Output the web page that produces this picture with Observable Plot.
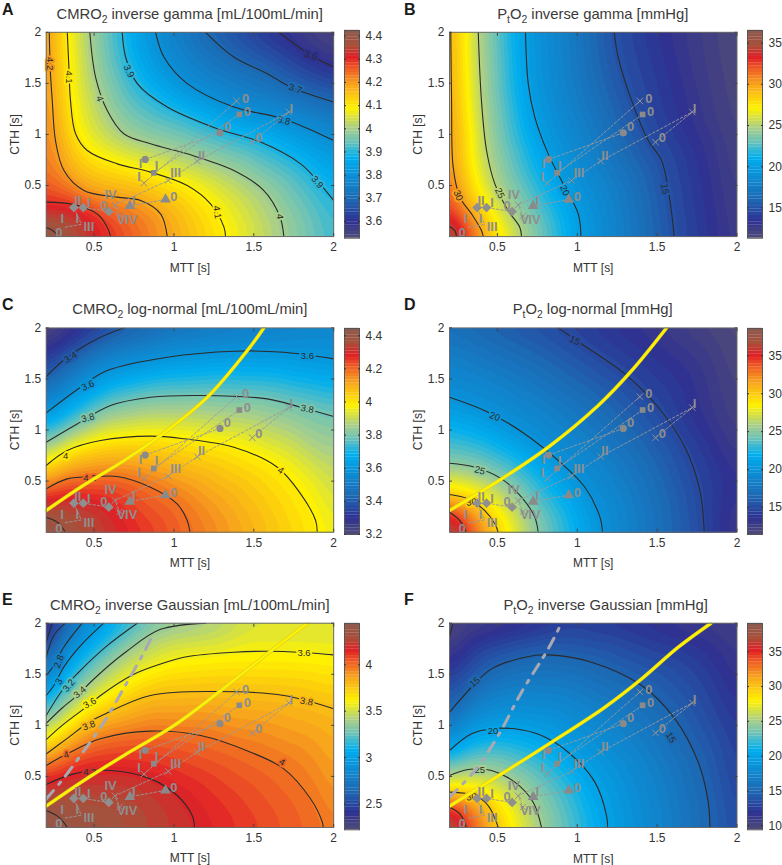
<!DOCTYPE html>
<html><head><meta charset="utf-8">
<script src="https://cdn.jsdelivr.net/npm/d3@7"></script>
<script src="https://cdn.jsdelivr.net/npm/@observablehq/plot@0.6"></script>
<style>
html,body{margin:0;background:#fff}
#c{position:relative;width:782px;height:865px;overflow:hidden;font-family:'Liberation Sans',Arial,sans-serif;color:#333}
#c svg{position:absolute;overflow:visible}
.t{position:absolute;transform:translate(-50%,-50%);font-size:14.8px;white-space:nowrap;color:#3a3a3a;line-height:1}
.t sub{font-size:70%;line-height:0}
.l{position:absolute;font-size:16px;font-weight:bold;color:#1a1a1a;line-height:1}
</style></head><body><div id="c"></div>
<script>
// Contour lines: level, then [MTT, CTH] knots
const contoursA=[
 [4.4,[[.2,.09],[.24,.06],[.28,0]]],
 [4.3,[[.2,.337],[.373,.314],[.519,.222],[.582,.092],[.603,0]]],
 [4.2,[[.219,2],[.227,1.595],[.238,1.333],[.258,.941],[.311,.647],[.436,.451],[.645,.386],[.791,.353],[.916,.222],[.958,0]]],
 [4.1,[[.332,2],[.342,1.66],[.352,1.333],[.384,1.007],[.457,.843],[.645,.712],[.853,.631],[1.083,.5],[1.229,.32],[1.313,.092],[1.323,0]]],
 [4,[[.473,2],[.509,1.562],[.582,1.235],[.686,1.007],[.853,.908],[1.083,.81],[1.375,.647],[1.563,.451],[1.663,.196],[1.688,0]]],
 [3.9,[[.676,2],[.697,1.758],[.77,1.497],[.958,1.268],[1.271,1.056],[1.542,.925],[1.793,.712],[1.897,.549],[2,.353]]],
 [3.8,[[.885,2],[.937,1.758],[1.083,1.497],[1.375,1.268],[1.647,1.17],[1.793,1.088],[2,.941]]],
 [3.7,[[1.198,2],[1.375,1.758],[1.584,1.595],[1.73,1.464],[2,1.317]]],
 [3.6,[[1.657,2],[1.856,1.775],[2,1.66]]]];
const cornersA=[[.2,2,4.22],[.2,1.2,4.235],[.2,.7,4.25],[.2,0,4.44],[2,2,3.54],[2,0,3.92],[.35,.15,4.36]];
const labelsA=[[4.2,.223,1.693,90],[4.1,.342,1.562,90],[4,.536,1.35,70],[3.9,.718,1.62,65],[3.8,1.688,1.137,15],[3.7,1.76,1.448,20],[3.6,1.856,1.775,20],[3.9,1.897,.533,50],[4.1,1.27,.239,80],[4,1.663,.196,85]];

const contoursB=[
 [35,[[.2,.098],[.233,.059],[.244,0]]],
 [30,[[.208,2],[.213,1.333],[.223,.68],[.265,.386],[.338,.222],[.4,.059],[.411,0]]],
 [25,[[.38,2],[.4,1.333],[.432,.843],[.484,.516],[.567,.255],[.64,.092],[.651,0]]],
 [20,[[.676,2],[.693,1.497],[.734,1.17],[.818,.81],[.912,.516],[1.006,.222],[1.023,0]]],
 [15,[[1.231,2],[1.256,1.758],[1.34,1.333],[1.444,.941],[1.528,.745],[1.58,.353],[1.607,0]]]];
const cornersB=[[2,2,11.6],[2,1,12],[2,0,12.6],[1.6,2,13.2],[.2,2,30.2],[.2,1,30.8],[.2,.6,31.8],[.2,0,36.5]];
const labelsB=[[15,1.549,.467,80],[20,.922,.451,65],[25,.515,.425,65],[30,.254,.402,65]];

const contoursC=[
 [4.4,[[.2,.147],[.269,.098],[.321,0]]],
 [4.2,[[.2,.424],[.332,.522],[.52,.545],[.645,.545],[.853,.44],[1.02,.277],[1.083,.114],[1.1,0]]],
 [4,[[.2,.653],[.332,.8],[.54,.897],[.853,.94],[1.062,.914],[1.375,.832],[1.647,.636],[1.793,.375],[1.887,.114],[1.897,0]]],
 [3.8,[[.2,.881],[.394,1.06],[.603,1.24],[.853,1.321],[1.167,1.338],[1.584,1.305],[1.793,1.223],[2,1.132]]],
 [3.6,[[.2,1.168],[.415,1.419],[.582,1.582],[.958,1.713],[1.375,1.772],[1.688,1.762],[2,1.697]]],
 [3.4,[[.2,1.524],[.332,1.713],[.54,1.909],[.686,2]]]];
const cornersC=[[.2,2,3.2],[1,2,3.47],[1.563,2,3.52],[2,2,3.55],[2,0,3.96],[2,.6,3.9],[.2,0,4.44],[.8,.02,4.27],[.55,.3,4.3],[.3,.35,4.31]];
const labelsC=[[3.4,.352,1.713,-30],[3.6,.461,1.436,-25],[3.8,.461,1.119,-15],[4,.321,.75,0],[4.2,.473,.532,0],[4,1.668,.604,35],[3.8,1.835,1.207,10],[3.6,1.835,1.723,0]];

const contoursD=[
 [35,[[.2,.196],[.265,.114],[.306,0]]],
 [30,[[.2,.369],[.317,.326],[.421,.212],[.484,.082],[.505,0]]],
 [25,[[.2,.675],[.359,.636],[.526,.522],[.651,.343],[.734,.147],[.755,0]]],
 [20,[[.2,1.321],[.442,1.175],[.672,.962],[.881,.701],[1.048,.44],[1.142,.147],[1.158,0]]],
 [15,[[.88,2],[1.027,1.843],[1.298,1.55],[1.507,1.223],[1.674,.832],[1.768,.408],[1.795,0]]]];
const cornersD=[[.2,0,38.6],[2,2,11.6],[2,1,12.5],[2,0,13],[2,.5,13.5],[1.2,2,14],[.2,2,17.2]];
const labelsD=[[15,.985,1.876,25],[20,.484,1.132,20],[25,.39,.604,15],[30,.338,.294,-10]];

const contoursE=[
 [4.4,[[.2,.166],[.279,.101],[.332,0]]],
 [4.2,[[.2,.421],[.373,.525],[.603,.558],[.853,.476],[1.02,.313],[1.114,.117],[1.129,0]]],
 [4,[[.2,.607],[.332,.721],[.54,.868],[.853,.943],[1.167,.9],[1.48,.737],[1.688,.574],[1.855,.281],[1.929,.052],[1.935,0]]],
 [3.8,[[.2,.72],[.33,.87],[.467,1.03],[.54,1.09],[.853,1.292],[1.271,1.331],[1.688,1.292],[2,1.162]]],
 [3.6,[[.2,.86],[.3,1],[.477,1.21],[.54,1.292],[.749,1.5],[.916,1.6],[1.062,1.667],[1.375,1.716],[1.688,1.723],[2,1.69]]],
 [3.4,[[.2,1.02],[.3,1.17],[.415,1.32],[.477,1.422],[.7,1.72],[.916,1.94],[1.2,2]]],
 [3.2,[[.2,1.096],[.3,1.341],[.394,1.505],[.582,1.78],[.77,2]]],
 [3,[[.2,1.292],[.248,1.39],[.31,1.57],[.415,1.78],[.56,2]]],
 [2.8,[[.2,1.488],[.248,1.586],[.31,1.765],[.425,2]]],
 [2.6,[[.2,1.667],[.248,1.88],[.32,2]]],
 [2.4,[[.2,1.814],[.238,2]]]];
const cornersE=[[.2,2,2.25],[2,2,3.53],[1.5,2,3.53],[2,0,3.96],[.2,0,4.44],[.7,.2,4.3]];
const labelsE=[[2.8,.279,1.625,-70],[3,.279,1.429,-60],[3.2,.342,1.39,-50],[3.4,.411,1.325,-40],[3.6,.473,1.217,-30],[3.8,.467,.998,-20],[4,.325,.711,-15],[4.2,.473,.542,0],[4,1.677,.639,30],[3.8,1.83,1.233,10],[3.6,1.814,1.71,0]];

const contoursF=[
 [35,[[.2,.199],[.265,.134],[.306,0]]],
 [30,[[.2,.346],[.359,.313],[.442,.215],[.494,.052],[.505,0]]],
 [25,[[.2,.509],[.317,.568],[.463,.558],[.609,.444],[.724,.248],[.776,0]]],
 [20,[[.2,.754],[.338,.917],[.463,.966],[.609,.966],[.776,.9],[.943,.737],[1.11,.444],[1.183,.117],[1.19,0]]],
 [15,[[.2,1.128],[.338,1.373],[.463,1.553],[.672,1.667],[.818,1.69],[1.089,1.618],[1.403,1.39],[1.611,1.064],[1.757,.64],[1.82,.248],[1.83,0]]],
 [10,[[.2,1.87],[.223,2]]]];
const cornersF=[[.2,0,39],[.2,2,9.5],[2,2,10.5],[2,1,12.5],[2,0,13.5],[1.4,2,12],[1,2,12.7]];
const labelsF=[[15,.359,1.423,-40],[20,.473,.949,0],[25,.39,.568,0],[30,.338,.3,-10],[15,1.586,.881,60]];

// Critical-transit curves
const yellowC=[[.2,.212],[.415,.44],[.686,.7],[.916,.946],[1.208,1.32],[1.459,1.778],[1.563,2]];
const yellowD=[[.2,.212],[.526,.522],[.818,.832],[1.131,1.24],[1.34,1.58],[1.559,2]];
const yellowE=[[.2,.209],[.436,.46],[.686,.705],[1,.998],[1.334,1.39],[1.584,1.7],[1.835,2]];
const yellowF=[[.2,.209],[.526,.525],[.839,.835],[1.173,1.178],[1.403,1.455],[1.632,1.765],[1.837,2]];
const dashE=[[.2,.28],[.29,.444],[.415,.705],[.561,1.03],[.707,1.422],[.812,1.716],[.874,1.905]];
const dashF=[[.2,.297],[.359,.558],[.505,.9],[.651,1.325],[.818,1.749],[.901,2]];

// Grey study points: dashed chains and their markers
const circles=[[1.288,1.016],[.82,.755]];
const squares=[[1.409,1.196],[.874,.624]];
const triangles=[[.947,.363],[.724,.3],[.7,.3]];
const diamonds=[[.592,.245],[.432,.284],[.373,.284],[.42,.12],[.31,.09]];
const crossesA=[[1.392,1.327],[.812,.523]];
const crossesB=[[1.49,.925],[1.72,1.22],[1.146,.739],[.964,.549],[.63,.31],[.66,.2]];
const studyLabels=[["0",1.334,1.072],["0",1.459,1.219],["0",1.448,1.35],["I",1.734,1.252],["0",1.532,.967],["II",1.173,.794],["III",1.01,.621],["I",.79,.712],["I",.891,.696],["I",.782,.582],["0",1,.386],["IV",.603,.412],["I",.749,.353],["IV",.732,.167],["V",.67,.167],["0",.561,.297],["II",.398,.346],["I",.467,.33],["III",.467,.092],["I",.3,.173],["I",.394,.173],["0",.279,.036]];

const mttTicks=[.5,1,1.5,2], cthTicks=[.5,1,1.5,2];
const cmapStops=[0,.08,.19,.3,.384,.464,.528,.624,.736,.816,.869,.928,1];
const cmapColors=["#4f4a78","#2e3192","#1c6bb5","#0b8fd6","#00aeef","#6cc3b8","#a9cf8a","#fff200","#f8a51c","#ee5a24","#e01f26","#a8503a","#8b5a4f"];
const cmap=d3.scaleLinear(cmapStops,cmapColors).interpolate(d3.interpolateRgb);

const titles=[
 ["A","CMRO<sub>2</sub> inverse gamma [mL/100mL/min]"],["B","P<sub>t</sub>O<sub>2</sub> inverse gamma [mmHg]"],
 ["C","CMRO<sub>2</sub> log-normal [mL/100mL/min]"],["D","P<sub>t</sub>O<sub>2</sub> log-normal [mmHg]"],
 ["E","CMRO<sub>2</sub> inverse Gaussian [mL/100mL/min]"],["F","P<sub>t</sub>O<sub>2</sub> inverse Gaussian [mmHg]"]];
const colorbarTicks=[[4.4,4.3,4.2,4.1,4,3.9,3.8,3.7,3.6],[35,30,25,20,15],[4.4,4.2,4,3.8,3.6,3.4,3.2],[35,30,25,20,15],[4,3.5,3,2.5],[35,30,25,20,15,10]];
const colorDomains=[[3.528,4.424],[11.33,36.53],[3.2,4.444],[11.44,38.6],[2.224,4.445],[9.43,39.06]];

const root=document.getElementById("c");
const style={fontFamily:"'Liberation Sans',Arial,sans-serif",fontSize:"12px",color:"#333",background:"transparent"};
const xy=a=>a.map(([x,y])=>({x,y}));

function panel(i,contours,corners,labels,left,top,mL,mT,yellow,dash){
 const [lo,hi]=colorDomains[i];
 const W=mL+287.5+6,H=mT+204.3+50;
 const field=[...contours.flatMap(([z,p])=>p.map(([x,y])=>({x,y,z}))),...corners.map(([x,y,z])=>({x,y,z}))];
 const lines=contours.flatMap(([z,p],k)=>p.map(([x,y])=>({x,y,k})));
 const lab=labels.map(([level,x,y,r])=>({level,x,y,r}));
 const chain=(a,id)=>a.map(([x,y])=>({x,y,id}));
 const chains=[...chain(circles,"c"),...chain(squares,"s"),...chain(crossesA,"a"),...chain(crossesB,"b"),...chain(triangles,"t"),...chain(diamonds,"d")];
 const marks=[
  Plot.contour(field,{x:"x",y:"y",fill:"z",interpolate:"barycentric",pixelSize:1,blur:9,stroke:"none",thresholds:d3.range(lo-1e-6,hi,(hi-lo)/64)}),
  Plot.line(lines,{x:"x",y:"y",z:"k",stroke:"#2b2b2b",strokeWidth:1.1,curve:"catmull-rom",clip:true}),
  Plot.text(lab,{x:"x",y:"y",text:d=>String(d.level),rotate:"r",fill:"#2a2a2a",stroke:"level",strokeWidth:4,fontSize:9.5})
 ];
 if(yellow) marks.push(
  Plot.line(xy(yellow),{x:"x",y:"y",stroke:"#d9cc2a",strokeWidth:3.6,curve:"catmull-rom",clip:true}),
  Plot.line(xy(yellow),{x:"x",y:"y",stroke:"#fff200",strokeWidth:2.4,curve:"catmull-rom",clip:true}));
 if(dash) marks.push(Plot.line(xy(dash),{x:"x",y:"y",stroke:"#a9a9b4",strokeWidth:3,strokeDasharray:"11 8 3 8",curve:"catmull-rom",clip:true}));
 marks.push(
  Plot.line(chains,{x:"x",y:"y",z:"id",stroke:"#9a9a9a",strokeWidth:.9,strokeDasharray:"2.5 2"}),
  Plot.dot(xy(crossesA),{x:"x",y:"y",symbol:"times",r:3,stroke:"#929292",strokeWidth:1}),
  Plot.dot(xy(crossesB),{x:"x",y:"y",symbol:"times",r:3,stroke:"#929292",strokeWidth:1}),
  Plot.dot(xy(circles),{x:"x",y:"y",symbol:"circle",r:3.6,fill:"#8a8a8a"}),
  Plot.dot(xy(squares),{x:"x",y:"y",symbol:"square",r:3.2,fill:"#8a8a8a"}),
  Plot.dot(xy(triangles.slice(0,2)),{x:"x",y:"y",symbol:"triangle",r:4,fill:"#8a8a8a"}),
  Plot.dot(xy(diamonds.slice(0,3)),{x:"x",y:"y",symbol:"diamond2",r:4.4,fill:"#8f8f8f"}),
  Plot.text(studyLabels,{x:d=>d[1],y:d=>d[2],text:d=>d[0],fill:"#8e8e8e",fontSize:13,fontWeight:"bold"}),
  Plot.frame({stroke:"#6a6a6a",strokeWidth:1}),
  Plot.axisX({ticks:mttTicks,tickSize:-3,tickPadding:9,label:"MTT [s]",labelAnchor:"center",labelArrow:"none",labelOffset:35,tickFormat:String,stroke:"#444"}),
  Plot.axisY({ticks:cthTicks,tickSize:-3,tickPadding:8,label:"CTH [s]",labelAnchor:"center",labelArrow:"none",labelOffset:36,tickFormat:String,stroke:"#444"}),
  Plot.axisX({anchor:"top",ticks:mttTicks,tickSize:-3,tickFormat:()=>"",label:null,stroke:"#444"}),
  Plot.axisY({anchor:"right",ticks:cthTicks,tickSize:-3,tickFormat:()=>"",label:null,stroke:"#444"}));
 const svg=Plot.plot({width:W,height:H,marginLeft:mL,marginRight:6,marginTop:mT,marginBottom:50,style,
  x:{domain:[.2,2]},y:{domain:[0,2]},color:{type:"linear",domain:[lo,hi],interpolate:t=>cmap(t)},marks});
 svg.style.left=left+"px";svg.style.top=top+"px";
 root.append(svg);
}

function colorbar(i,left,top,barH){
 const [lo,hi]=colorDomains[i],step=(hi-lo)/64;
 const bands=d3.range(lo,hi-step/2,step);
 const svg=Plot.plot({width:40,height:barH+20,marginLeft:3,marginRight:22,marginTop:10,marginBottom:10,style,
  x:{domain:[0,1],axis:null},y:{domain:[lo,hi],axis:null},color:{type:"linear",domain:[lo,hi],interpolate:t=>cmap(t)},
  marks:[
   Plot.rect(bands,{x1:0,x2:1,y1:d=>d,y2:d=>d+step*1.05,fill:d=>d+step/2}),
   Plot.frame({stroke:"#555",strokeWidth:1}),
   Plot.axisY({anchor:"right",ticks:colorbarTicks[i],tickSize:-2,tickPadding:8,tickFormat:String,label:null,stroke:"#333"}),
   Plot.axisY({anchor:"left",ticks:colorbarTicks[i],tickSize:-2,tickFormat:()=>"",label:null,stroke:"#333"})
  ]});
 svg.style.left=left+"px";svg.style.top=top+"px";
 root.append(svg);
}

const cols=[{left:0,mL:45.7,bar:340.7,lx:2},{left:391,mL:58,bar:744,lx:404}];
const rows=[{top:0,mT:31.8,bT:30,bH:207.7,ly:2,ty:14},{top:295,mT:32.4,bT:327.7,bH:206,ly:297,ty:309},{top:590,mT:32.7,bT:622.7,bH:206.3,ly:592,ty:605}];
const data=[[contoursA,cornersA,labelsA],[contoursB,cornersB,labelsB],[contoursC,cornersC,labelsC,yellowC],[contoursD,cornersD,labelsD,yellowD],[contoursE,cornersE,labelsE,yellowE,dashE],[contoursF,cornersF,labelsF,yellowF,dashF]];
const titleX=[189.7,592.8,189.8,592.7,189.7,605.7];
data.forEach((d,i)=>{
 const c=cols[i%2],r=rows[Math.floor(i/2)];
 panel(i,d[0],d[1],d[2],c.left,r.top,c.mL,r.mT,d[3],d[4]);
 colorbar(i,c.bar,r.bT-10,r.bH);
 const t=document.createElement("div");t.className="t";t.innerHTML=titles[i][1];t.style.left=titleX[i]+"px";t.style.top=r.ty+"px";root.append(t);
 const l=document.createElement("div");l.className="l";l.textContent=titles[i][0];l.style.left=c.lx+"px";l.style.top=r.ly+"px";root.append(l);
});
</script></body></html>
